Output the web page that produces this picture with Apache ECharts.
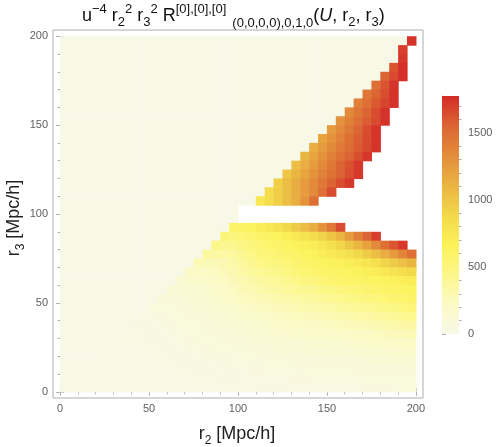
<!DOCTYPE html>
<html>
<head>
<meta charset="utf-8">
<script src="https://cdn.jsdelivr.net/npm/echarts@6/dist/echarts.min.js"></script>
<style>
  html, body { margin: 0; padding: 0; background: #fff; }
  #chart { width: 501px; height: 447px; }
</style>
</head>
<body>
<div id="chart"></div>
<script>
// cell centres (5 Mpc/h cells), r2 left -> right, r3 top -> bottom
const r2Centers = [2.5, 7.5, 12.5, 17.5, 22.5, 27.5, 32.5, 37.5, 42.5, 47.5,
  52.5, 57.5, 62.5, 67.5, 72.5, 77.5, 82.5, 87.5, 92.5, 97.5,
  102.5, 107.5, 112.5, 117.5, 122.5, 127.5, 132.5, 137.5, 142.5, 147.5,
  152.5, 157.5, 162.5, 167.5, 172.5, 177.5, 182.5, 187.5, 192.5, 197.5]
const r3Centers = [197.5, 192.5, 187.5, 182.5, 177.5, 172.5, 167.5, 162.5, 157.5, 152.5,
  147.5, 142.5, 137.5, 132.5, 127.5, 122.5, 117.5, 112.5, 107.5, 102.5,
  97.5, 92.5, 87.5, 82.5, 77.5, 72.5, 67.5, 62.5, 57.5, 52.5,
  47.5, 42.5, 37.5, 32.5, 27.5, 22.5, 17.5, 12.5, 7.5, 2.5]

// one row per r3 centre, null = no value (white)
const cellRows = [
  [0,0,0,0,0,0,0,0,0,0, 0,0,0,0,0,0,0,0,0,0, 0,0,0,0,0,0,0,0,0,0, 0,0,0,0,0,0,0,0,0, 1750],
  [0,0,0,0,0,0,0,0,0,0, 0,0,0,0,0,0,0,0,0,0, 0,0,0,0,0,0,0,0,0,0, 0,0,0,0,0,0,0,0, 1700, null],
  [0,0,0,0,0,0,0,0,0,0, 0,0,0,0,0,0,0,0,0,0, 0,0,0,0,0,0,0,0,0,0, 0,0,0,0,0,0,0,0, 1720, null],
  [0,0,0,0,0,0,0,0,0,0, 0,0,0,0,0,0,0,0,0,0, 0,0,0,0,0,0,0,0,0,0, 0,0,0,0,0,0,0, 1620, 1760, null],
  [0,0,0,0,0,0,0,0,0,0, 0,0,0,0,0,0,0,0,0,0, 0,0,0,0,0,0,0,0,0,0, 0,0,0,0,0,0, 1550, 1660, 1760, null],
  [0,0,0,0,0,0,0,0,0,0, 0,0,0,0,0,0,0,0,0,0, 0,0,0,0,0,0,0,0,0,0, 0,0,0,0,0, 1500, 1620, 1750, null, null],
  [0,0,0,0,0,0,0,0,0,0, 0,0,0,0,0,0,0,0,0,0, 0,0,0,0,0,0,0,0,0,0, 0,0,0,0, 1450, 1550, 1650, 1750, null, null],
  [0,0,0,0,0,0,0,0,0,0, 0,0,0,0,0,0,0,0,0,0, 0,0,0,0,0,0,0,0,0,0, 0,0,0, 1400, 1500, 1600, 1680, 1750, null, null],
  [0,0,0,0,0,0,0,0,0,0, 0,0,0,0,0,0,0,0,0,0, 0,0,0,0,0,0,0,0,0,0, 0,0, 1350, 1450, 1550, 1650, 1750, null, null, null],
  [0,0,0,0,0,0,0,0,0,0, 0,0,0,0,0,0,0,0,0,0, 0,0,0,0,0,0,0,0,0,0, 0, 1300, 1400, 1500, 1580, 1660, 1750, null, null, null],
  [0,0,0,0,0,0,0,0,0,0, 0,0,0,0,0,0,0,0,0,0, 0,0,0,0,0,0,0,0,0,0, 1250, 1350, 1450, 1550, 1650, 1740, null, null, null, null],
  [0,0,0,0,0,0,0,0,0,0, 0,0,0,0,0,0,0,0,0,0, 0,0,0,0,0,0,0,0,0, 1200, 1300, 1400, 1500, 1580, 1660, 1740, null, null, null, null],
  [0,0,0,0,0,0,0,0,0,0, 0,0,0,0,0,0,0,0,0,0, 0,0,0,0,0,0,0,0, 1150, 1250, 1350, 1430, 1510, 1590, 1660, 1740, null, null, null, null],
  [0,0,0,0,0,0,0,0,0,0, 0,0,0,0,0,0,0,0,0,0, 0,0,0,0,0,0,0, 1100, 1200, 1300, 1400, 1480, 1560, 1640, 1730, null, null, null, null, null],
  [0,0,0,0,0,0,0,0,0,0, 0,0,0,0,0,0,0,0,0,0, 0,0,0,0,0,0, 1050, 1150, 1250, 1350, 1450, 1550, 1630, 1720, null, null, null, null, null, null],
  [0,0,0,0,0,0,0,0,0,0, 0,0,0,0,0,0,0,0,0,0, 0,0,0,0,0, 1000, 1100, 1200, 1300, 1400, 1480, 1560, 1640, 1720, null, null, null, null, null, null],
  [0,0,0,0,0,0,0,0,0,0, 0,0,0,0,0,0,0,0,0,0, 0,0,0,0, 950, 1050, 1150, 1250, 1350, 1450, 1550, 1650, 1720, null, null, null, null, null, null, null],
  [0,0,0,0,0,0,0,0,0,0, 0,0,0,0,0,0,0,0,0,0, 0,0,0, 850, 950, 1050, 1150, 1250, 1350, 1500, 1650, null, null, null, null, null, null, null, null, null],
  [0,0,0,0,0,0,0,0,0,0, 0,0,0,0,0,0,0,0,0,0, 0,0, 750, 850, 950, 1050, 1150, 1300, 1500, null, null, null, null, null, null, null, null, null, null, null],
  [0,0,0,0,0,0,0,0,0,0, 0,0,0,0,0,0,0,0,0,0, null, null, null, null, null, null, null, null, null, null, null, null, null, null, null, null, null, null, null, null],
  [0,0,0,0,0,0,0,0,0,0, 0,0,0,0,0,0,0,0,0,0, null, null, null, null, null, null, null, null, null, null, null, null, null, null, null, null, null, null, null, null],
  [0,0,0,0,0,0,0,0,0,0, 0,0,0,0,0,0,0,0,0, 600, 620, 650, 700, 750, 800, 880, 970, 1060, 1150, 1300, 1450, 1650, null, null, null, null, null, null, null, null],
  [0,0,0,0,0,0,0,0,0,0, 0,0,0,0,0,0,0,0, 520, 500, 540, 570, 600, 630, 650, 690, 740, 790, 850, 920, 1000, 1100, 1250, 1400, 1550, 1700, null, null, null, null],
  [0,0,0,0,0,0,0,0,0,0, 0,0,0,0,0,0,0, 450, 420, 430, 470, 500, 540, 580, 600, 630, 660, 690, 720, 760, 820, 900, 1000, 1100, 1220, 1350, 1500, 1620, 1720, null],
  [0,0,0,0,0,0,0,0,0,0, 0,0,0,0,0,0, 370, 350, 350, 370, 420, 460, 510, 540, 560, 590, 610, 640, 660, 700, 740, 780, 820, 880, 960, 1050, 1150, 1260, 1380, 1500],
  [0,0,0,0,0,0,0,0,0,0, 0,0,0,0,0, 290, 280, 285, 300, 330, 380, 420, 460, 490, 500, 540, 570, 600, 620, 640, 660, 680, 700, 740, 780, 830, 900, 960, 1030, 1100],
  [0,0,0,0,0,0,0,0,0,0, 0,0,0,0, 220, 215, 230, 245, 265, 300, 340, 370, 400, 430, 450, 480, 520, 550, 580, 600, 610, 625, 640, 660, 690, 720, 750, 790, 830, 870],
  [0,0,0,0,0,0,0,0,0,0, 0,0,0, 160, 165, 180, 200, 215, 235, 270, 300, 330, 360, 380, 400, 430, 460, 490, 500, 540, 570, 590, 600, 610, 620, 635, 650, 670, 695, 720],
  [0,0,0,0,0,0,0,0,0,0, 0,0, 120, 125, 140, 155, 172, 190, 210, 240, 270, 290, 310, 340, 360, 380, 400, 420, 430, 460, 480, 500, 520, 540, 560, 580, 600, 610, 625, 640],
  [0,0,0,0,0,0,0,0,0,0, 0, 85, 95, 105, 118, 133, 150, 165, 185, 210, 240, 260, 275, 295, 310, 330, 345, 360, 370, 390, 410, 430, 450, 470, 490, 510, 540, 560, 580, 600],
  [0,0,0,0,0,0,0,0,0,0, 60, 68, 78, 90, 102, 115, 128, 142, 160, 180, 200, 215, 230, 250, 270, 285, 295, 310, 320, 335, 350, 365, 380, 395, 410, 430, 460, 480, 500, 520],
  [0,0,0,0,0,0,0,0,0, 42, 45, 54, 64, 75, 86, 98, 108, 120, 135, 150, 170, 180, 195, 210, 230, 240, 250, 260, 270, 280, 290, 305, 320, 335, 350, 365, 380, 395, 410, 430],
  [0,0,0,0,0,0,0,0, 35, 32, 38, 46, 55, 64, 74, 84, 92, 100, 112, 125, 140, 150, 160, 175, 190, 200, 205, 215, 220, 230, 240, 250, 260, 275, 285, 300, 310, 325, 340, 350],
  [0,0,0,0,0,0,0, 30, 28, 29, 34, 41, 48, 56, 64, 72, 78, 85, 95, 105, 115, 125, 135, 145, 155, 160, 165, 172, 180, 188, 195, 203, 210, 220, 230, 240, 250, 260, 270, 280],
  [0,0,0,0,0,0, 27, 25, 25, 26, 30, 36, 42, 48, 54, 60, 66, 72, 80, 88, 95, 100, 108, 115, 125, 130, 135, 140, 145, 152, 158, 164, 170, 178, 185, 193, 200, 207, 214, 220],
  [0,0,0,0,0, 24, 22, 21, 21, 22, 25, 30, 35, 40, 45, 50, 55, 60, 65, 70, 75, 80, 86, 93, 100, 104, 108, 112, 115, 120, 125, 130, 135, 141, 147, 153, 160, 165, 170, 175],
  [0,0,0,0, 21, 19, 18, 18, 18, 19, 21, 25, 29, 33, 36, 40, 44, 48, 52, 56, 60, 64, 68, 74, 80, 83, 86, 88, 90, 94, 98, 102, 105, 110, 114, 119, 125, 129, 132, 135],
  [0,0,0, 18, 15, 14, 14, 14, 14, 15, 17, 20, 23, 26, 29, 32, 35, 38, 42, 45, 48, 51, 54, 58, 62, 65, 67, 69, 72, 75, 78, 80, 82, 85, 88, 91, 95, 99, 102, 105],
  [0,0, 15, 11, 10, 10, 10, 10, 11, 11, 13, 15, 18, 20, 22, 25, 28, 30, 33, 35, 38, 40, 42, 45, 48, 50, 52, 54, 56, 58, 60, 62, 63, 65, 68, 70, 72, 75, 78, 80],
  [0, 11, 7, 7, 7, 7, 7, 7, 8, 8, 9, 10, 12, 14, 16, 18, 20, 22, 24, 26, 28, 30, 31, 33, 36, 37, 38, 40, 42, 44, 45, 46, 48, 50, 52, 53, 55, 57, 58, 60],
]

const colorStops = ['#f8f8e7', '#fbfac6', '#fcf78a', '#fcf25a', '#f2d84a', '#eab442', '#e38d3b', '#dc6533', '#d42b29']
const valueMax = 1775
const majorTicks = [0, 50, 100, 150, 200]
const minorTicks = [10, 20, 30, 40, 60, 70, 80, 90, 110, 120, 130, 140, 160, 170, 180, 190]
const barMajor = [0, 500, 1000, 1500]
const barMinor = [100, 200, 300, 400, 600, 700, 800, 900, 1100, 1200, 1300, 1400, 1600, 1700]

const FONT = "'Liberation Sans', Arial, Helvetica, sans-serif"
const FRAME = '#adadad'
const LABEL = '#5e5e5e'
const HALF = 2.5
const X_RANGE = [-4, 204]
const Y_RANGE = [-3.5, 203.5]

const cells = []
cellRows.forEach((row, j) => {
  row.forEach((v, i) => {
    if (v !== null) cells.push([r2Centers[i], r3Centers[j], v])
  })
})

// text pieces laid out side by side (for sub/superscripts)
const measure = document.createElement('canvas').getContext('2d')
function textRun(pieces, x0, yMid, color) {
  let x = x0
  return pieces.map((p) => {
    const fontStyle = p.it ? 'italic' : 'normal'
    measure.font = fontStyle + ' ' + p.size + 'px ' + FONT
    x += p.gap || 0
    const el = {
      type: 'text',
      silent: true,
      style: {
        text: p.t, x: x, y: yMid + (p.dy || 0),
        fontSize: p.size, fontFamily: FONT, fontStyle: fontStyle,
        fill: color, align: 'left', verticalAlign: 'middle',
      },
    }
    x += measure.measureText(p.t).width
    return el
  })
}
function runWidth(pieces) {
  return pieces.reduce((w, p) => {
    measure.font = (p.it ? 'italic ' : 'normal ') + p.size + 'px ' + FONT
    return w + (p.gap || 0) + measure.measureText(p.t).width
  }, 0)
}

const M = 18, S = 13
const titlePieces = [
  { t: 'u', size: M },
  { t: '\u22124', size: S, dy: -7 },
  { t: ' r', size: M },
  { t: '2', size: S, dy: 6.5 },
  { t: '2', size: S, dy: -7 },
  { t: ' r', size: M },
  { t: '3', size: S, dy: 6.5 },
  { t: '2', size: S, dy: -7 },
  { t: ' R', size: M },
  { t: '[0],[0],[0]', size: S, dy: -7 },
  { t: '(0,0,0,0),0,1,0', size: S, dy: 7.5, gap: 6 },
  { t: '(', size: M },
  { t: 'U', size: M, it: true },
  { t: ', r', size: M },
  { t: '2', size: S, dy: 6.5 },
  { t: ', r', size: M },
  { t: '3', size: S, dy: 6.5 },
  { t: ')', size: M },
]
const xTitle = [{ t: 'r', size: M }, { t: '2', size: 12, dy: 6.5 }, { t: ' [Mpc/h]', size: M }]
const yTitle = [{ t: 'r', size: M }, { t: '3', size: 12, dy: 6.5 }, { t: ' [Mpc/h]', size: M }]

function frameAxis(dim, position, ticks, len, labels) {
  const range = dim === 'x' ? X_RANGE : Y_RANGE
  return {
    type: 'value', gridIndex: 0, position, min: range[0], max: range[1],
    axisLine: { show: false },
    splitLine: { show: false },
    axisTick: { show: true, inside: true, length: len, customValues: ticks, lineStyle: { color: FRAME, width: 1 } },
    axisLabel: labels
      ? { show: true, customValues: ticks, color: LABEL, fontSize: 11, fontFamily: FONT, margin: 5 }
      : { show: false },
  }
}

const chart = echarts.init(document.getElementById('chart'))
chart.setOption({
  animation: false,
  backgroundColor: '#fff',
  grid: [
    { left: 53, top: 30, width: 370, height: 368, show: true, borderColor: FRAME, borderWidth: 1, backgroundColor: 'transparent' },
    { left: 442, top: 96, width: 17, height: 238 },
  ],
  xAxis: [
    frameAxis('x', 'bottom', majorTicks, 4, true),
    frameAxis('x', 'bottom', minorTicks, 2.5, false),
    frameAxis('x', 'top', majorTicks, 4, false),
    frameAxis('x', 'top', minorTicks, 2.5, false),
    { type: 'value', gridIndex: 1, min: 0, max: 1, show: false },
  ],
  yAxis: [
    frameAxis('y', 'left', majorTicks, 4, true),
    frameAxis('y', 'left', minorTicks, 2.5, false),
    frameAxis('y', 'right', majorTicks, 4, false),
    frameAxis('y', 'right', minorTicks, 2.5, false),
    {
      type: 'value', gridIndex: 1, position: 'right', min: 0, max: valueMax,
      axisLine: { show: true, lineStyle: { color: FRAME } },
      splitLine: { show: false },
      axisTick: { show: true, inside: false, length: 4, customValues: barMajor, lineStyle: { color: FRAME } },
      axisLabel: {
        show: true, customValues: barMajor, color: LABEL, fontSize: 11, fontFamily: FONT, margin: 9,
        formatter: (v) => String(v),
      },
    },
    {
      type: 'value', gridIndex: 1, position: 'right', min: 0, max: valueMax,
      axisLine: { show: false },
      splitLine: { show: false },
      axisTick: { show: true, inside: false, length: 2.5, customValues: barMinor, lineStyle: { color: FRAME } },
      axisLabel: { show: false },
    },
  ],
  visualMap: {
    type: 'continuous', show: false, seriesIndex: 0, dimension: 2,
    min: 0, max: valueMax, inRange: { color: colorStops },
  },
  series: [
    {
      type: 'custom',
      xAxisIndex: 0,
      yAxisIndex: 0,
      data: cells,
      encode: { x: 0, y: 1 },
      progressive: 0,
      renderItem(params, api) {
        const a = api.coord([api.value(0) - HALF, api.value(1) + HALF])
        const b = api.coord([api.value(0) + HALF, api.value(1) - HALF])
        return {
          type: 'rect',
          shape: { x: a[0], y: a[1], width: b[0] - a[0] + 0.6, height: b[1] - a[1] + 0.6 },
          style: { fill: api.visual('color') },
        }
      },
    },
    {
      type: 'custom',
      xAxisIndex: 4,
      yAxisIndex: 4,
      data: [[0, valueMax]],
      encode: { x: 0, y: 1 },
      renderItem(params, api) {
        const lo = api.coord([0, 0])
        const hi = api.coord([1, api.value(1)])
        return {
          type: 'rect',
          shape: { x: lo[0], y: hi[1], width: hi[0] - lo[0], height: lo[1] - hi[1] },
          style: {
            fill: new echarts.graphic.LinearGradient(0, 1, 0, 0,
              colorStops.map((c, i) => ({ offset: i / (colorStops.length - 1), color: c }))),
          },
        }
      },
    },
  ],
  graphic: {
    elements: [
      ...textRun(titlePieces, 82, 16, '#111'),
      ...textRun(xTitle, 237 - runWidth(xTitle) / 2, 434, '#222'),
      {
        type: 'group',
        x: 14,
        y: 218 + runWidth(yTitle) / 2,
        rotation: Math.PI / 2,
        children: textRun(yTitle, 0, 0, '#222'),
      },
    ],
  },
})
</script>
</body>
</html>
